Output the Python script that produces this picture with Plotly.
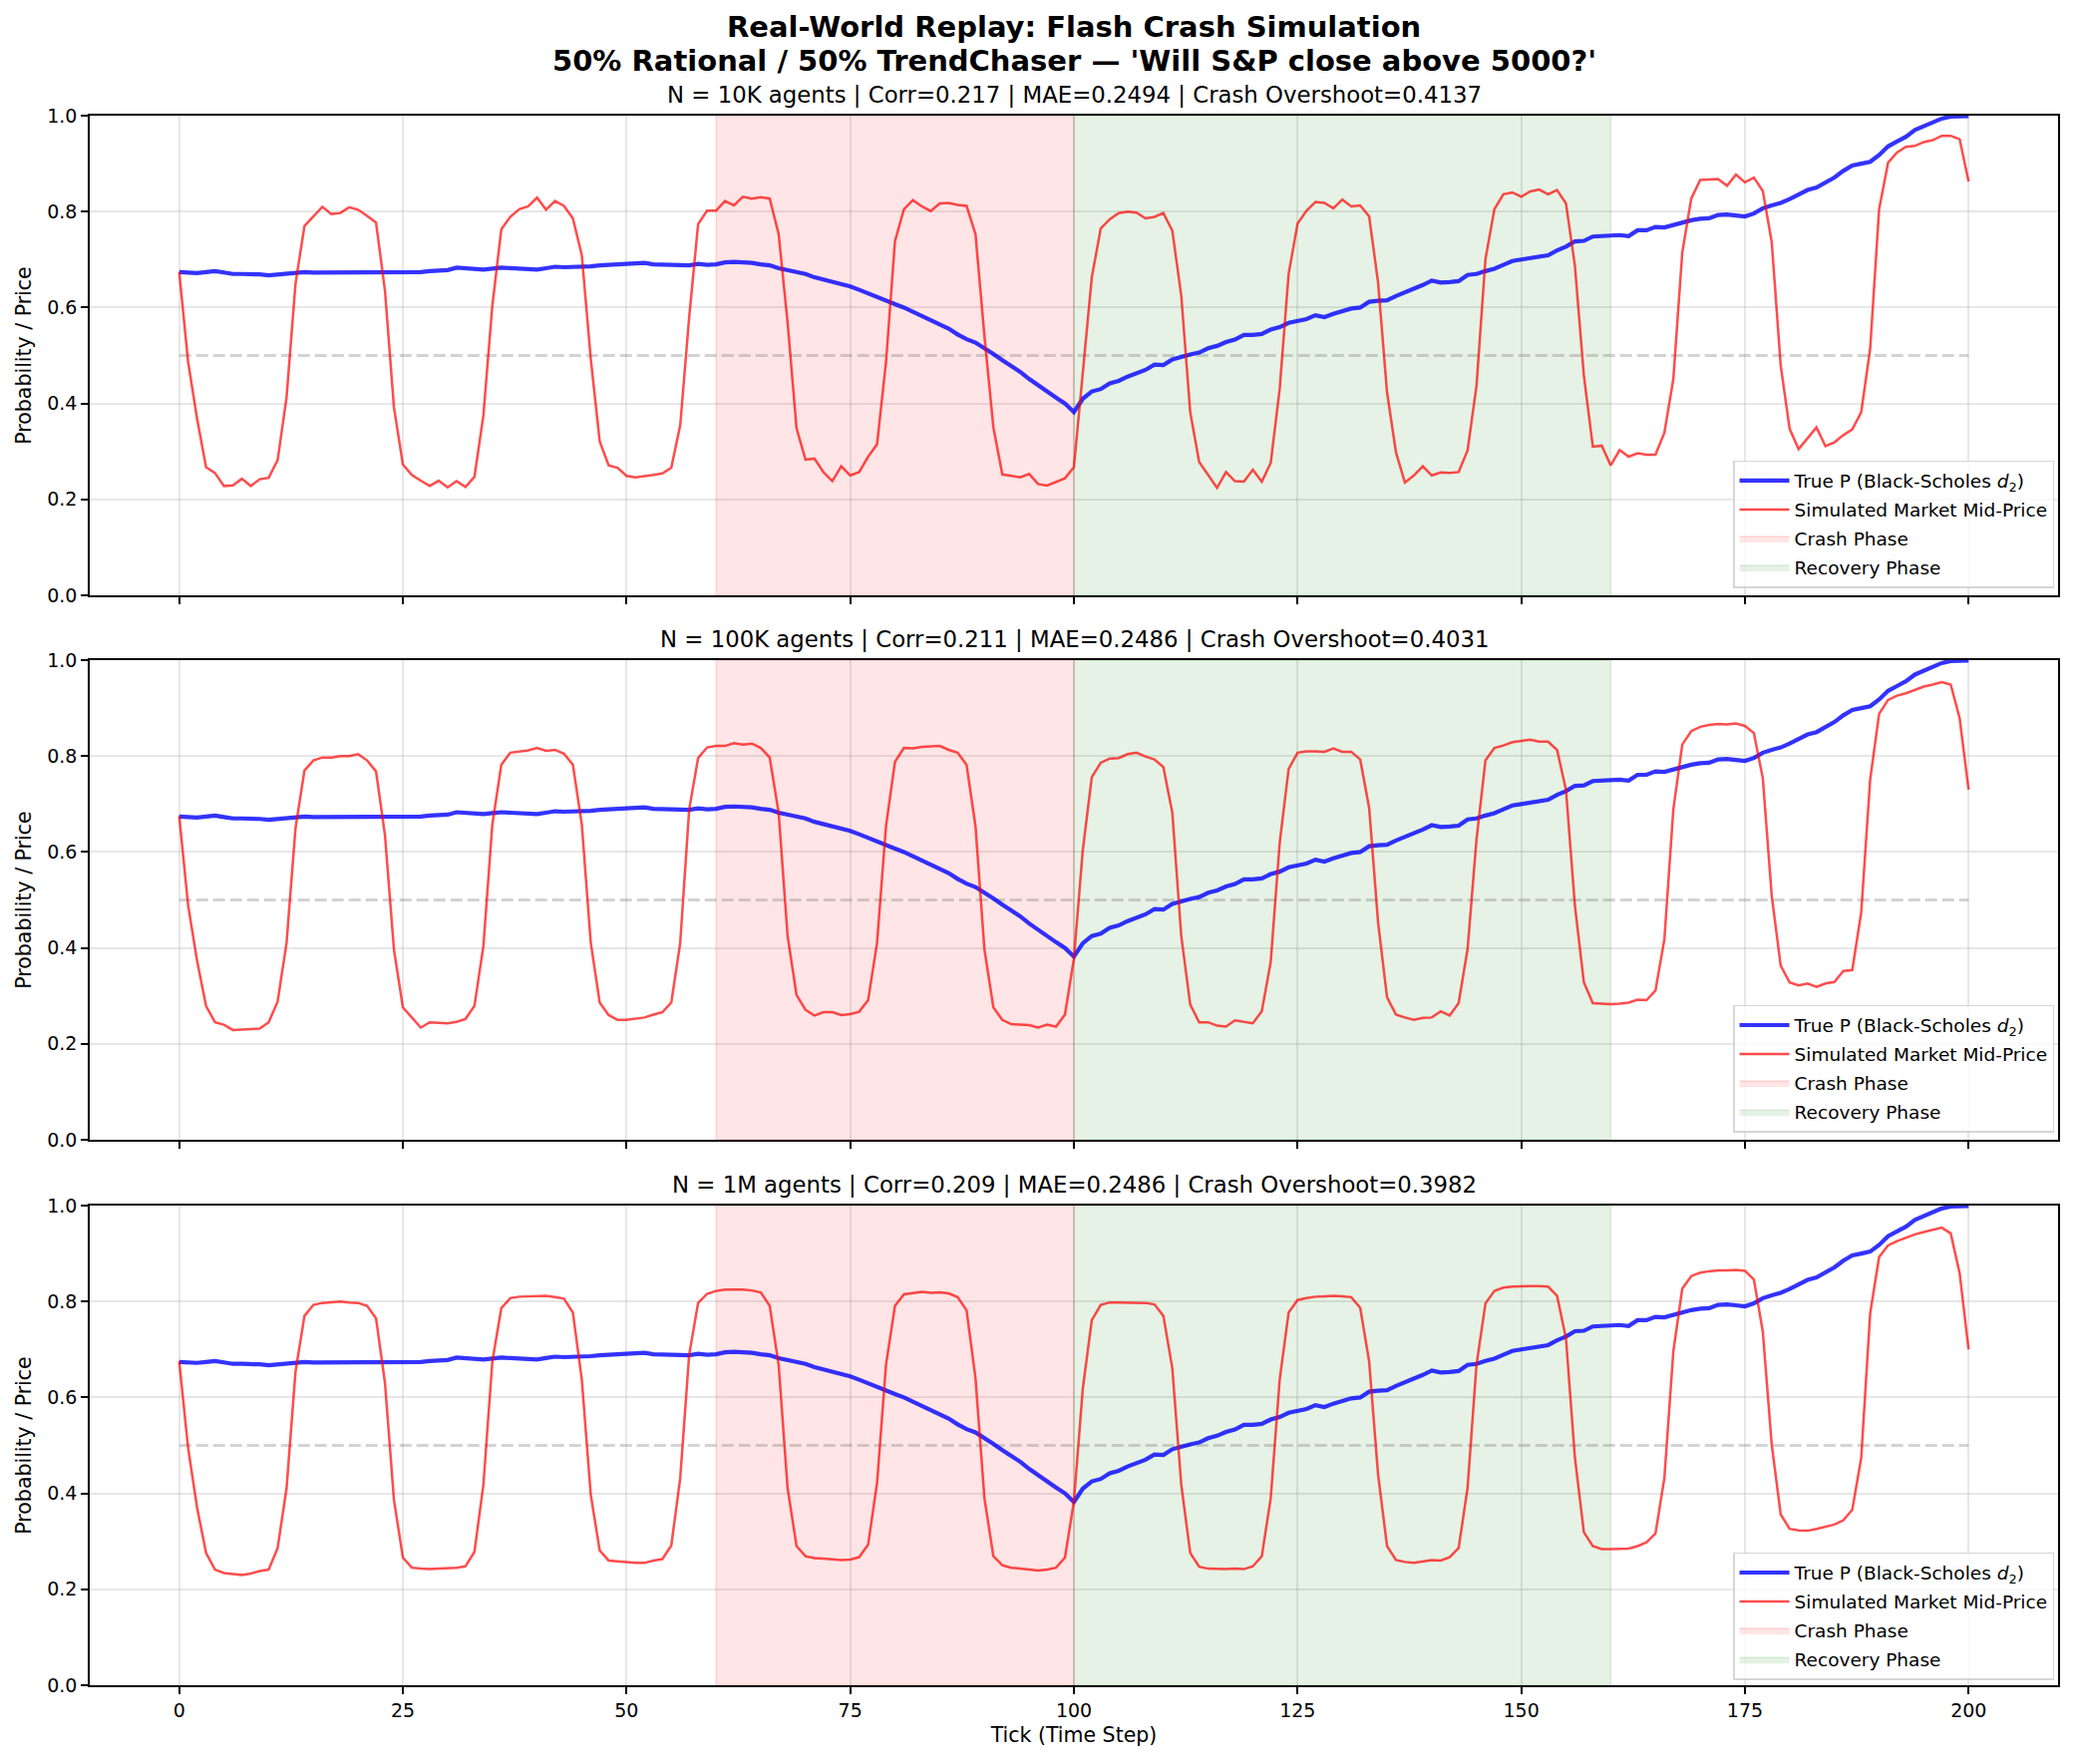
import plotly.graph_objects as go

# ---------------- data ----------------
TICKS = list(range(201))

TRUE_P = [
    0.674, 0.673, 0.672, 0.674, 0.676, 0.673, 0.670, 0.670, 0.670, 0.669,
    0.667, 0.669, 0.671, 0.672, 0.674, 0.673, 0.673, 0.673, 0.672, 0.673,
    0.674, 0.673, 0.672, 0.673, 0.674, 0.674, 0.673, 0.674, 0.676, 0.677,
    0.678, 0.683, 0.682, 0.681, 0.679, 0.681, 0.683, 0.682, 0.681, 0.680,
    0.679, 0.682, 0.685, 0.684, 0.684, 0.685, 0.686, 0.688, 0.690, 0.690,
    0.691, 0.692, 0.693, 0.690, 0.689, 0.689, 0.688, 0.688, 0.691, 0.689,
    0.690, 0.694, 0.695, 0.695, 0.693, 0.690, 0.688, 0.682, 0.678, 0.675,
    0.670, 0.663, 0.658, 0.654, 0.650, 0.644, 0.637, 0.629, 0.622, 0.615,
    0.607, 0.600, 0.591, 0.582, 0.572, 0.564, 0.556, 0.544, 0.534, 0.527,
    0.516, 0.503, 0.490, 0.478, 0.466, 0.451, 0.437, 0.425, 0.412, 0.400,
    0.382, 0.410, 0.425, 0.430, 0.442, 0.447, 0.456, 0.463, 0.470, 0.481,
    0.480, 0.492, 0.498, 0.502, 0.506, 0.515, 0.520, 0.528, 0.533, 0.543,
    0.543, 0.545, 0.554, 0.559, 0.568, 0.571, 0.576, 0.584, 0.580, 0.587,
    0.592, 0.598, 0.600, 0.612, 0.614, 0.615, 0.624, 0.631, 0.638, 0.647,
    0.656, 0.652, 0.653, 0.655, 0.668, 0.670, 0.676, 0.681, 0.689, 0.697,
    0.700, 0.703, 0.706, 0.709, 0.719, 0.727, 0.738, 0.739, 0.748, 0.749,
    0.752, 0.751, 0.749, 0.761, 0.761, 0.768, 0.767, 0.772, 0.779, 0.782,
    0.785, 0.786, 0.793, 0.794, 0.792, 0.790, 0.796, 0.807, 0.813, 0.818,
    0.826, 0.836, 0.845, 0.850, 0.860, 0.871, 0.885, 0.896, 0.900, 0.904,
    0.918, 0.936, 0.946, 0.956, 0.970, 0.978, 0.987, 0.994, 0.998, 0.999,
    0.999,
]

MID_10K = [
    0.674, 0.486, 0.368, 0.267, 0.255, 0.228, 0.229, 0.243, 0.228, 0.242,
    0.245, 0.282, 0.413, 0.650, 0.770, 0.790, 0.810, 0.795, 0.797, 0.809,
    0.804, 0.791, 0.777, 0.635, 0.392, 0.273, 0.251, 0.239, 0.228, 0.239,
    0.225, 0.238, 0.226, 0.247, 0.375, 0.604, 0.763, 0.789, 0.805, 0.811,
    0.829, 0.804, 0.822, 0.812, 0.786, 0.709, 0.493, 0.321, 0.271, 0.266,
    0.249, 0.246, 0.248, 0.251, 0.254, 0.266, 0.355, 0.580, 0.774, 0.802,
    0.802, 0.822, 0.813, 0.831, 0.827, 0.830, 0.827, 0.753, 0.569, 0.348,
    0.283, 0.285, 0.257, 0.238, 0.269, 0.250, 0.257, 0.289, 0.315, 0.486,
    0.738, 0.805, 0.824, 0.811, 0.801, 0.817, 0.818, 0.814, 0.812, 0.753,
    0.541, 0.350, 0.252, 0.249, 0.246, 0.253, 0.232, 0.229, 0.236, 0.244,
    0.267, 0.458, 0.663, 0.765, 0.784, 0.797, 0.800, 0.798, 0.786, 0.789,
    0.797, 0.760, 0.625, 0.382, 0.278, 0.251, 0.224, 0.257, 0.238, 0.237,
    0.262, 0.237, 0.276, 0.430, 0.670, 0.775, 0.802, 0.820, 0.818, 0.807,
    0.825, 0.811, 0.813, 0.790, 0.652, 0.423, 0.298, 0.235, 0.250, 0.269,
    0.250, 0.256, 0.255, 0.257, 0.302, 0.437, 0.701, 0.805, 0.836, 0.840,
    0.831, 0.842, 0.846, 0.836, 0.845, 0.817, 0.687, 0.458, 0.310, 0.312,
    0.271, 0.303, 0.289, 0.296, 0.293, 0.293, 0.339, 0.451, 0.715, 0.827,
    0.866, 0.867, 0.868, 0.854, 0.877, 0.861, 0.871, 0.843, 0.736, 0.479,
    0.347, 0.305, 0.328, 0.350, 0.311, 0.319, 0.334, 0.346, 0.382, 0.514,
    0.805, 0.902, 0.923, 0.935, 0.937, 0.945, 0.949, 0.958, 0.958, 0.951,
    0.863,
]

MID_100K = [
    0.675, 0.488, 0.373, 0.279, 0.245, 0.240, 0.229, 0.230, 0.231, 0.232,
    0.245, 0.288, 0.411, 0.650, 0.770, 0.791, 0.797, 0.797, 0.800, 0.800,
    0.804, 0.791, 0.768, 0.635, 0.397, 0.276, 0.255, 0.234, 0.245, 0.244,
    0.243, 0.246, 0.252, 0.279, 0.404, 0.657, 0.782, 0.807, 0.810, 0.812,
    0.817, 0.811, 0.813, 0.805, 0.782, 0.657, 0.411, 0.286, 0.260, 0.250,
    0.250, 0.252, 0.255, 0.261, 0.266, 0.286, 0.411, 0.689, 0.796, 0.818,
    0.821, 0.821, 0.827, 0.824, 0.826, 0.817, 0.797, 0.682, 0.425, 0.302,
    0.271, 0.259, 0.266, 0.266, 0.260, 0.262, 0.267, 0.291, 0.411, 0.654,
    0.788, 0.817, 0.816, 0.819, 0.820, 0.821, 0.813, 0.807, 0.782, 0.654,
    0.397, 0.276, 0.250, 0.241, 0.240, 0.239, 0.234, 0.240, 0.236, 0.261,
    0.377, 0.605, 0.756, 0.786, 0.795, 0.796, 0.804, 0.807, 0.799, 0.793,
    0.777, 0.682, 0.425, 0.282, 0.245, 0.245, 0.238, 0.236, 0.249, 0.246,
    0.243, 0.268, 0.371, 0.619, 0.773, 0.807, 0.810, 0.810, 0.809, 0.816,
    0.809, 0.809, 0.793, 0.692, 0.453, 0.297, 0.261, 0.255, 0.250, 0.254,
    0.255, 0.268, 0.259, 0.285, 0.397, 0.626, 0.791, 0.817, 0.822, 0.829,
    0.831, 0.834, 0.830, 0.830, 0.813, 0.730, 0.488, 0.328, 0.285, 0.284,
    0.283, 0.284, 0.286, 0.292, 0.291, 0.311, 0.418, 0.689, 0.824, 0.852,
    0.861, 0.865, 0.867, 0.866, 0.868, 0.863, 0.848, 0.754, 0.508, 0.363,
    0.328, 0.322, 0.326, 0.319, 0.326, 0.329, 0.352, 0.354, 0.474, 0.751,
    0.888, 0.917, 0.926, 0.931, 0.938, 0.945, 0.949, 0.954, 0.949, 0.879,
    0.730,
]

MID_1M = [
    0.675, 0.494, 0.370, 0.276, 0.241, 0.234, 0.232, 0.230, 0.233, 0.238,
    0.241, 0.286, 0.411, 0.654, 0.770, 0.793, 0.797, 0.799, 0.800, 0.798,
    0.797, 0.791, 0.765, 0.630, 0.387, 0.266, 0.245, 0.243, 0.242, 0.243,
    0.244, 0.245, 0.248, 0.278, 0.418, 0.675, 0.786, 0.807, 0.810, 0.811,
    0.811, 0.812, 0.809, 0.806, 0.777, 0.637, 0.397, 0.281, 0.260, 0.258,
    0.257, 0.255, 0.255, 0.260, 0.263, 0.291, 0.432, 0.689, 0.797, 0.816,
    0.822, 0.825, 0.825, 0.825, 0.823, 0.819, 0.791, 0.668, 0.411, 0.290,
    0.269, 0.265, 0.264, 0.262, 0.261, 0.262, 0.267, 0.293, 0.422, 0.668,
    0.791, 0.815, 0.818, 0.820, 0.818, 0.819, 0.817, 0.809, 0.782, 0.640,
    0.390, 0.269, 0.250, 0.245, 0.243, 0.241, 0.239, 0.241, 0.245, 0.266,
    0.383, 0.619, 0.761, 0.793, 0.798, 0.798, 0.798, 0.797, 0.797, 0.794,
    0.770, 0.661, 0.418, 0.276, 0.247, 0.243, 0.242, 0.242, 0.243, 0.242,
    0.248, 0.269, 0.390, 0.637, 0.777, 0.803, 0.807, 0.810, 0.811, 0.812,
    0.811, 0.809, 0.787, 0.675, 0.439, 0.290, 0.261, 0.257, 0.255, 0.258,
    0.261, 0.260, 0.267, 0.286, 0.411, 0.668, 0.796, 0.822, 0.829, 0.831,
    0.832, 0.832, 0.832, 0.831, 0.812, 0.723, 0.474, 0.319, 0.290, 0.284,
    0.284, 0.284, 0.285, 0.290, 0.298, 0.316, 0.432, 0.696, 0.827, 0.853,
    0.860, 0.863, 0.865, 0.865, 0.866, 0.864, 0.846, 0.737, 0.501, 0.356,
    0.326, 0.323, 0.322, 0.326, 0.330, 0.335, 0.344, 0.366, 0.474, 0.775,
    0.893, 0.917, 0.926, 0.933, 0.940, 0.945, 0.950, 0.954, 0.942, 0.859,
    0.700,
]

PANEL_TITLES = [
    "N = 10K agents | Corr=0.217 | MAE=0.2494 | Crash Overshoot=0.4137",
    "N = 100K agents | Corr=0.211 | MAE=0.2486 | Crash Overshoot=0.4031",
    "N = 1M agents | Corr=0.209 | MAE=0.2486 | Crash Overshoot=0.3982",
]
SERIES = [MID_10K, MID_100K, MID_1M]
CRASH_PHASE = (60, 100)
RECOVERY_PHASE = (100, 160)
REFERENCE_LEVEL = 0.5
X_TICKS = [0, 25, 50, 75, 100, 125, 150, 175, 200]
Y_TICKS = [0.0, 0.2, 0.4, 0.6, 0.8, 1.0]

SUPTITLE_1 = "Real-World Replay: Flash Crash Simulation"
SUPTITLE_2 = "50% Rational / 50% TrendChaser \u2014 'Will S&P close above 5000?'"
X_LABEL = "Tick (Time Step)"
Y_LABEL = "Probability / Price"

# ---------------- figure ----------------
FONT = "DejaVu Sans"
W, H = 2084, 1769
ML, MR, MT, MB = 90, 20, 116, 79
PH = H - MT - MB

DOMAINS = [(0.6944, 1.0), (0.3475, 0.6531), (0.0, 0.3056)]
LEGEND_Y = [0.6989, 0.3520, 0.0032]

fig = go.Figure()

for i, mid in enumerate(SERIES):
    xa = "x" if i == 0 else f"x{i + 1}"
    ya = "y" if i == 0 else f"y{i + 1}"
    leg = "legend" if i == 0 else f"legend{i + 1}"

    c0, c1 = CRASH_PHASE
    fig.add_trace(go.Scatter(
        x=[c0, c1, c1, c0, c0], y=[0, 0, 1, 1, 0], mode="lines",
        fill="toself", fillcolor="rgba(255,0,0,0.1)",
        line=dict(color="rgba(255,0,0,0.13)", width=1.5),
        name="Crash Phase", legend=leg, legendrank=3,
        legendgroup=f"crash{i}",
        xaxis=xa, yaxis=ya, hoverinfo="skip"))
    r0, r1 = RECOVERY_PHASE
    fig.add_trace(go.Scatter(
        x=[r0, r1, r1, r0, r0], y=[0, 0, 1, 1, 0], mode="lines",
        fill="toself", fillcolor="rgba(0,128,0,0.1)",
        line=dict(color="rgba(0,128,0,0.12)", width=1.5),
        name="Recovery Phase", legend=leg, legendrank=4,
        legendgroup=f"recov{i}",
        xaxis=xa, yaxis=ya, hoverinfo="skip"))
    fig.add_trace(go.Scatter(
        x=[TICKS[0], TICKS[-1]], y=[REFERENCE_LEVEL, REFERENCE_LEVEL],
        mode="lines", line=dict(color="rgba(128,128,128,0.35)", width=3,
                                dash="12px,5px"),
        showlegend=False, xaxis=xa, yaxis=ya, hoverinfo="skip"))
    fig.add_trace(go.Scatter(
        x=TICKS, y=TRUE_P, mode="lines",
        line=dict(color="rgba(0,0,255,0.8)", width=4.2),
        name="True P (Black-Scholes <i>d</i><sub>2</sub>)",
        legend=leg, legendrank=1, legendgroup=f"true{i}",
        xaxis=xa, yaxis=ya))
    fig.add_trace(go.Scatter(
        x=TICKS, y=mid, mode="lines",
        line=dict(color="rgba(255,0,0,0.7)", width=2.5),
        name="Simulated Market Mid-Price",
        legend=leg, legendrank=2, legendgroup=f"mid{i}",
        xaxis=xa, yaxis=ya))

axis_common = dict(
    showline=True, mirror=True, linecolor="black", linewidth=1.6,
    ticks="outside", ticklen=7, tickwidth=1.6, tickcolor="black",
    showgrid=True, gridcolor="rgba(176,176,176,0.3)", gridwidth=1.6,
    zeroline=False, tickfont=dict(family=FONT, size=19, color="black"),
)

layout_axes = {}
for i in range(3):
    xk = "xaxis" if i == 0 else f"xaxis{i + 1}"
    yk = "yaxis" if i == 0 else f"yaxis{i + 1}"
    xa = "x" if i == 0 else f"x{i + 1}"
    ya = "y" if i == 0 else f"y{i + 1}"
    xdef = dict(
        axis_common, domain=[0, 1], anchor=ya, range=[-10, 210],
        tickvals=X_TICKS, showticklabels=(i == 2),
    )
    if i == 2:
        xdef["title"] = dict(text=X_LABEL,
                             font=dict(family=FONT, size=20.5, color="black"),
                             standoff=8)
    if i > 0:
        xdef["matches"] = "x"
    layout_axes[xk] = xdef
    layout_axes[yk] = dict(
        axis_common, domain=list(DOMAINS[i]), anchor=xa, range=[0, 1],
        tickvals=Y_TICKS, tickformat=".1f",
        title=dict(text=Y_LABEL,
                   font=dict(family=FONT, size=20.5, color="black"), standoff=10),
    )

legend_common = dict(
    xref="paper", yref="paper", x=0.998, xanchor="right", yanchor="bottom",
    bgcolor="rgba(255,255,255,0.8)", bordercolor="rgba(204,204,204,0.8)",
    borderwidth=1.5, font=dict(family=FONT, size=18.5, color="black"),
    itemwidth=50, tracegroupgap=2,
)

annotations = []
for i, t in enumerate(PANEL_TITLES):
    annotations.append(dict(
        text=t, xref="paper", yref="paper", x=0.5, y=DOMAINS[i][1],
        xanchor="center", yanchor="bottom", yshift=6, showarrow=False,
        font=dict(family=FONT, size=22.8, color="black")))
annotations.append(dict(
    text=f"<b>{SUPTITLE_1}</b>", xref="paper", yref="paper", x=0.5,
    y=1 + (MT - 27) / PH, xanchor="center", yanchor="middle", showarrow=False,
    font=dict(family=FONT, size=29, color="black")))
annotations.append(dict(
    text=f"<b>{SUPTITLE_2}</b>", xref="paper", yref="paper", x=0.5,
    y=1 + (MT - 61) / PH, xanchor="center", yanchor="middle", showarrow=False,
    font=dict(family=FONT, size=29, color="black")))

fig.update_layout(
    width=W, height=H,
    margin=dict(l=ML, r=MR, t=MT, b=MB, autoexpand=False),
    paper_bgcolor="white", plot_bgcolor="white",
    font=dict(family=FONT, color="black"),
    showlegend=True,
    legend=dict(legend_common, y=LEGEND_Y[0]),
    legend2=dict(legend_common, y=LEGEND_Y[1]),
    legend3=dict(legend_common, y=LEGEND_Y[2]),
    annotations=annotations,
    **layout_axes,
)

fig.write_html("out.html")
